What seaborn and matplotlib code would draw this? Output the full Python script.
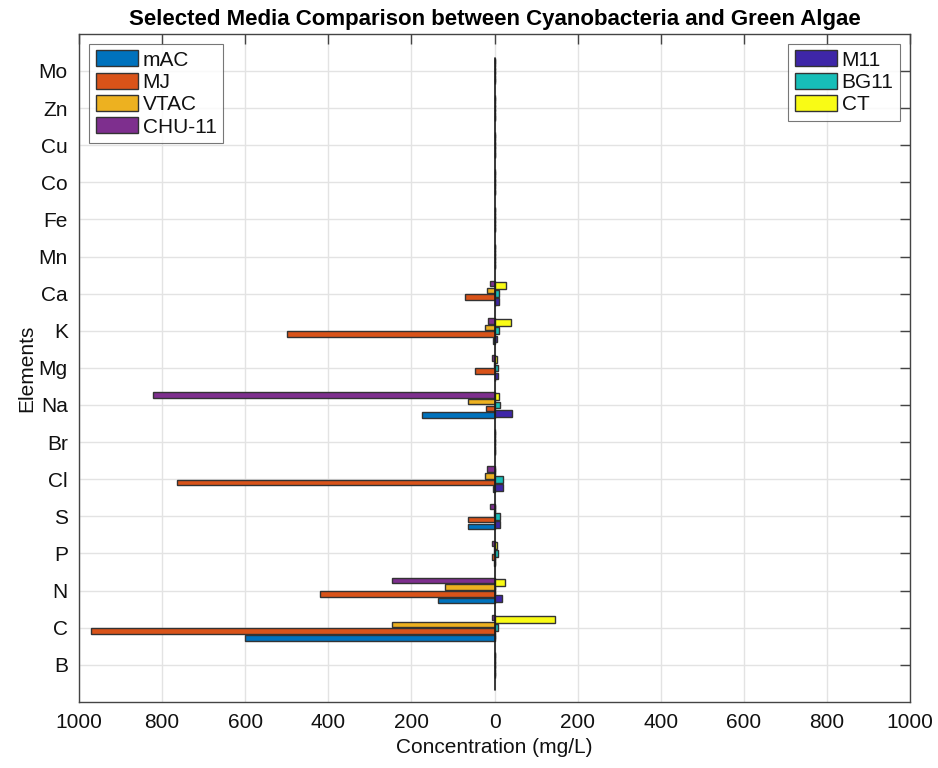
import numpy as np
import pandas as pd
import matplotlib
matplotlib.use("Agg")
import matplotlib.pyplot as plt
from matplotlib.patches import Patch
from matplotlib.ticker import FuncFormatter
import seaborn as sns

sns.set_style("white")
plt.rcParams["font.family"] = ["Liberation Sans", "DejaVu Sans"]
plt.rcParams["text.color"] = "#111111"
plt.rcParams["axes.labelcolor"] = "#111111"
plt.rcParams["xtick.labelcolor"] = "#111111"
plt.rcParams["ytick.labelcolor"] = "#111111"

# ---------------------------------------------------------------
# Data (mg/L), elements listed bottom -> top
# ---------------------------------------------------------------
elements = ["B", "C", "N", "P", "S", "Cl", "Br", "Na", "Mg", "K", "Ca",
            "Mn", "Fe", "Co", "Cu", "Zn", "Mo"]

# green algae media (drawn to the left)
mAC = [0, 600, 137, 1, 64, 3, 0, 175, 0, 3, 0, 0, 0, 0, 0, 0, 0]
MJ = [0, 970, 420, 7, 64, 764, 0, 21, 47, 500, 70, 0, 0, 0, 0, 0, 0]
VTAC = [0, 246, 119, 2, 2, 22, 0, 63, 1, 24, 18, 0, 0, 0, 0, 0, 0]
CHU11 = [0, 5, 247, 6, 10, 19, 0, 822, 7, 16, 10, 0, 0, 0, 0, 0, 0]

# cyanobacteria media (drawn to the right)
M11 = [0, 0, 18, 1, 12, 21, 0, 41, 9, 6, 11, 0, 0, 0, 0, 0, 0]
BG11 = [0, 8, 0, 8, 12, 21, 0, 12, 9, 11, 11, 0, 0, 0, 0, 0, 0]
CT = [0, 146, 25, 5, 0, 0, 0, 10, 5, 40, 27, 0, 0, 0, 0, 0, 0]

algae_names = ["mAC", "MJ", "VTAC", "CHU-11"]
algae_colors = ["#0072BD", "#D95319", "#EDB120", "#7E2F8E"]
cyano_names = ["M11", "BG11", "CT"]
cyano_colors = ["#3E26A8", "#17BEB8", "#F9FB15"]

left = pd.DataFrame({"element": elements * 4,
                     "medium": np.repeat(algae_names, len(elements)),
                     "value": -np.array(mAC + MJ + VTAC + CHU11, dtype=float)})
right = pd.DataFrame({"element": elements * 3,
                      "medium": np.repeat(cyano_names, len(elements)),
                      "value": np.array(M11 + BG11 + CT, dtype=float)})

order = elements[::-1]  # Mo at top
edge = "#333333"

fig = plt.figure(figsize=(9.38, 7.68), dpi=100)
ax = fig.add_axes([0.0842, 0.086, 0.886, 0.870])

sns.barplot(data=left, x="value", y="element", hue="medium", order=order,
            hue_order=algae_names[::-1], palette=algae_colors[::-1],
            orient="h", width=0.72, gap=0.17, errorbar=None, saturation=1,
            edgecolor=edge, linewidth=1, legend=False, ax=ax)
sns.barplot(data=right, x="value", y="element", hue="medium", order=order,
            hue_order=cyano_names[::-1], palette=cyano_colors[::-1],
            orient="h", width=0.66, gap=0.18, errorbar=None, saturation=1,
            edgecolor=edge, linewidth=1, legend=False, ax=ax)

# zero baseline
ax.axvline(0, ymin=0.018, ymax=0.964, color="#1a1a1a", linewidth=1.2, zorder=3)

ax.set_xlim(-1000, 1000)
ax.set_ylim(len(elements), -1)
ax.set_xticks(np.arange(-1000, 1001, 200))
ax.xaxis.set_major_formatter(FuncFormatter(lambda v, p: f"{abs(v):.0f}"))
ax.grid(True, color="#e3e3e3", linewidth=1)
ax.set_axisbelow(True)
ax.tick_params(direction="in", length=7, width=1, color="#444444",
               labelsize=15, top=True, right=True, pad=8)
for s in ax.spines.values():
    s.set_color("#444444")
    s.set_linewidth(1)

ax.set_title("Selected Media Comparison between Cyanobacteria and Green Algae",
             fontsize=16, fontweight="bold", pad=6, color="black")
ax.set_xlabel("Concentration (mg/L)", fontsize=15, labelpad=4)
ax.set_ylabel("Elements", fontsize=15, labelpad=2)

leg_kw = dict(fontsize=15, frameon=True, fancybox=False, edgecolor="#555555",
              handlelength=2.05, handleheight=0.8, handletextpad=0.2,
              labelspacing=0.15, borderpad=0.3, borderaxespad=0.5)
h_left = [Patch(facecolor=c, edgecolor=edge, label=n)
          for n, c in zip(algae_names, algae_colors)]
h_right = [Patch(facecolor=c, edgecolor=edge, label=n)
           for n, c in zip(cyano_names, cyano_colors)]
leg1 = ax.legend(handles=h_left, loc="upper left", **leg_kw)
leg1.get_frame().set_linewidth(0.8)
ax.add_artist(leg1)
leg2 = ax.legend(handles=h_right, loc="upper right", **leg_kw)
leg2.get_frame().set_linewidth(0.8)

fig.savefig("out.png", dpi=100)
